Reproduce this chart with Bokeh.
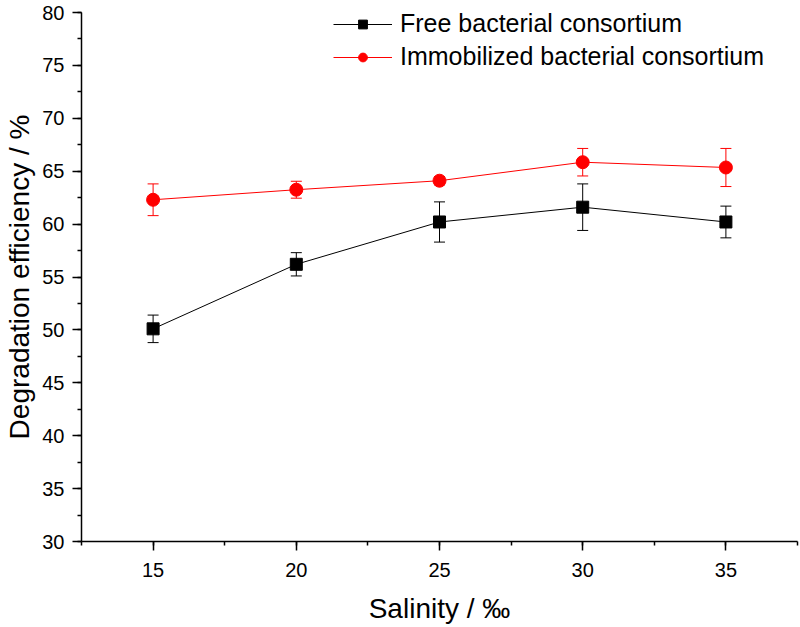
from bokeh.plotting import figure
from bokeh.models import ColumnDataSource, Whisker, TeeHead, SingleIntervalTicker, Range1d, Legend, LegendItem
from bokeh.embed import file_html
from bokeh.resources import INLINE

salinity = [15, 20, 25, 30, 35]
free_eff = [50.1, 56.2, 60.2, 61.6, 60.2]
free_err = [1.3, 1.1, 1.9, 2.2, 1.5]
immob_eff = [62.3, 63.25, 64.1, 65.85, 65.35]
immob_err = [1.5, 0.8, 0.4, 1.3, 1.8]

FONT = "Liberation Sans"

p = figure(width=799, height=626, output_backend="svg", toolbar_location=None,
           x_range=Range1d(12.5, 37.5), y_range=Range1d(30, 80),
           min_border_left=81, min_border_top=12, min_border_right=2, min_border_bottom=85)
p.outline_line_color = None
p.xgrid.visible = False
p.ygrid.visible = False

def src(y, e):
    return ColumnDataSource(dict(x=salinity, y=y,
                                 upper=[a + b for a, b in zip(y, e)],
                                 lower=[a - b for a, b in zip(y, e)]))

s_free = src(free_eff, free_err)
s_imm = src(immob_eff, immob_err)

for s, c in ((s_free, "black"), (s_imm, "#ff0000")):
    w = Whisker(source=s, base="x", upper="upper", lower="lower",
                line_color=c, line_width=1,
                upper_head=TeeHead(size=11, line_color=c, line_width=1),
                lower_head=TeeHead(size=11, line_color=c, line_width=1))
    p.add_layout(w)

l1 = p.line("x", "y", source=s_free, line_color="black", line_width=1)
m1 = p.scatter("x", "y", source=s_free, marker="square", size=12, fill_color="black", line_color="black")
l2 = p.line("x", "y", source=s_imm, line_color="#ff0000", line_width=1)
m2 = p.scatter("x", "y", source=s_imm, marker="circle", size=13, fill_color="#ff0000", line_color="#ff0000")

legend = Legend(items=[LegendItem(label="Free bacterial consortium", renderers=[l1, m1]),
                       LegendItem(label="Immobilized bacterial consortium", renderers=[l2, m2])],
                location=(252, 470), padding=0, margin=0, spacing=4,
                glyph_width=59, glyph_height=22, label_height=22, label_standoff=8,
                label_text_font=FONT, label_text_font_size="25px", label_text_color="black",
                border_line_color=None, background_fill_alpha=0)
p.add_layout(legend)

for ax in (p.xaxis[0], p.yaxis[0]):
    ax.ticker = SingleIntervalTicker(interval=5, num_minor_ticks=2)
    ax.major_tick_out = 9
    ax.major_tick_in = 0
    ax.minor_tick_out = 4
    ax.minor_tick_in = 0
    ax.axis_line_width = 1.5
    ax.major_tick_line_width = 1.5
    ax.minor_tick_line_width = 1.5
    ax.axis_line_color = "black"
    ax.major_tick_line_color = "black"
    ax.minor_tick_line_color = "black"
    ax.major_label_text_font = FONT
    ax.major_label_text_font_size = "20px"
    ax.major_label_text_color = "black"
    ax.axis_label_text_font = FONT
    ax.axis_label_text_font_size = "28px"
    ax.axis_label_text_font_style = "normal"
    ax.axis_label_text_color = "black"

p.xaxis.axis_label = "Salinity / \u2030"
p.yaxis.axis_label = "Degradation efficiency / %"
p.xaxis.major_label_standoff = 12
p.yaxis.major_label_standoff = 8
p.xaxis.axis_label_standoff = 13
p.yaxis.axis_label_standoff = 4

open("out.html", "w").write(file_html(p, INLINE))
